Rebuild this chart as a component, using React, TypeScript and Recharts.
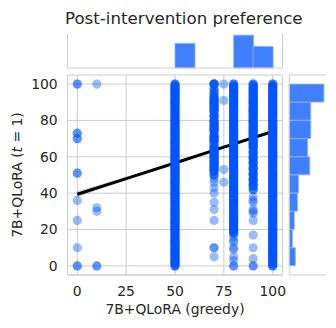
import {
  Area,
  Bar,
  BarChart,
  CartesianGrid,
  ComposedChart,
  Line,
  ReferenceLine,
  Scatter,
  XAxis,
  YAxis,
  ZAxis,
} from "recharts";

// scores from the two runs, grouped by the greedy score (x)
// sparse columns: one entry per visible dot
const col0 = [100, 100, 73, 73, 70, 70, 51, 51, 36, 25, 10, 0, 0];
const col10 = [100, 32, 30, 0, 0];
const col75 = [100, 91, 53, 46];
const col70Tail = [48, 46, 43, 40, 35, 31, 25, 10, 10, 5];
const col80Tail = [16, 14, 13, 10, 9, 5, 3, 0, 0];
const col90Tail = [38, 36, 35, 31, 30, 29, 25, 17, 10, 4, 0, 0];

// dense columns: every score that shows up, drawn several times over
const col50 = [
  0, 1, 2, 3, 4, 5, 6, 7, 8, 9, 10, 11, 12, 13, 14, 15, 16, 17, 18, 19, 20,
  21, 22, 23, 24, 25, 26, 27, 28, 29, 30, 31, 32, 33, 34, 35, 36, 37, 38, 39,
  40, 41, 42, 43, 44, 45, 46, 47, 48, 49, 50, 51, 52, 53, 54, 55, 56, 57, 58,
  59, 60, 61, 62, 63, 64, 65, 66, 67, 68, 69, 70, 71, 72, 73, 74, 75, 76, 77,
  78, 79, 80, 81, 82, 83, 84, 85, 86, 87, 88, 89, 90, 91, 92, 93, 94, 95, 96,
  97, 98, 99, 100,
];
const col70 = [
  100, 100, 97, 95, 93, 92, 91, 90, 89, 88, 87, 86, 85, 83, 82, 80, 79, 78,
  77, 76, 75, 74, 72, 71, 70, 69, 68, 66, 65, 64, 63, 62, 61, 60, 59, 58, 57,
  56, 55, 54, 53, 52, 50,
];
const col80 = [
  18, 19, 20, 21, 22, 23, 24, 25, 26, 27, 28, 29, 30, 31, 32, 33, 34, 35, 36,
  37, 38, 39, 40, 41, 42, 43, 44, 45, 46, 47, 48, 49, 50, 51, 52, 53, 54, 55,
  56, 57, 58, 59, 60, 61, 62, 63, 64, 65, 66, 67, 68, 69, 70, 71, 72, 73, 74,
  75, 76, 77, 78, 79, 80, 81, 82, 83, 84, 85, 86, 87, 88, 89, 90, 91, 92, 93,
  94, 95, 96, 97, 98, 99, 100,
];
const col90 = [
  42, 44, 45, 47, 48, 50, 51, 53, 54, 56, 57, 59, 60, 62, 63, 65, 66, 67, 68,
  69, 70, 71, 72, 73, 74, 75, 76, 77, 78, 79, 80, 81, 82, 83, 84, 85, 86, 87,
  88, 89, 90, 91, 92, 93, 94, 95, 96, 97, 98, 99, 100,
];
const col100 = [
  0, 1, 2, 3, 4, 5, 6, 7, 8, 9, 10, 11, 12, 13, 14, 15, 16, 17, 18, 19, 20,
  21, 22, 23, 24, 25, 26, 27, 28, 29, 30, 31, 32, 33, 34, 35, 36, 37, 38, 39,
  40, 41, 42, 43, 44, 45, 46, 47, 48, 49, 50, 51, 52, 53, 54, 55, 56, 57, 58,
  59, 60, 61, 62, 63, 64, 65, 66, 67, 68, 69, 70, 71, 72, 73, 74, 75, 76, 77,
  78, 79, 80, 81, 82, 83, 84, 85, 86, 87, 88, 89, 90, 91, 92, 93, 94, 95, 96,
  97, 98, 99, 100,
];
// how many times each score repeats in the dense columns
const denseCopies = 3;

// regression fit and its confidence band
const fitX = [0, 25, 50, 75, 100];
const fitY = [39.4, 48.0, 56.6, 65.3, 73.9];
const fitLo = [37.6, 47.1, 56.0, 64.9, 73.3];
const fitHi = [41.2, 48.9, 57.2, 65.7, 74.5];

// marginal histograms, 10-wide bins
const binLabels = ["0-10", "10-20", "20-30", "30-40", "40-50", "50-60", "60-70", "70-80", "80-90", "90-100"];
const greedyCounts = [0, 0, 0, 0, 0, 312, 0, 0, 416, 273];
const sampledCounts = [41, 21, 34, 55, 62, 138, 124, 145, 145, 234];

const xTicks = [0, 25, 50, 75, 100];
const yTicks = [0, 20, 40, 60, 80, 100];

const W = 336;
const H = 328;
const BLUE = "#0055ff";
const HIST = "#4080ff";
const GRID = "#cccccc";
const INK = "#262626";
const FONT = "'DejaVu Sans', sans-serif";

const column = (x: number, ys: number[], copies = 1) =>
  Array.from({ length: copies }).flatMap(() => ys.map((y) => ({ x, y })));

const points = [
  ...column(0, col0),
  ...column(10, col10),
  ...column(50, col50, denseCopies),
  ...column(70, col70, denseCopies),
  ...column(70, col70Tail),
  ...column(75, col75),
  ...column(80, col80, denseCopies),
  ...column(80, col80Tail),
  ...column(90, col90, denseCopies),
  ...column(90, col90Tail),
  ...column(100, col100, denseCopies),
];
const fitData = fitX.map((x, i) => ({ x, y: fitY[i], band: [fitLo[i], fitHi[i]] }));
const topData = binLabels.map((bin, i) => ({ bin, count: greedyCounts[i] }));
// right margin runs top-down, so highest bin first
const rightData = binLabels.map((bin, i) => ({ bin, count: sampledCounts[i] })).reverse();

const layer: React.CSSProperties = { position: "absolute", left: 0, top: 0 };

function YLabel() {
  return (
    <text
      x={22.3}
      y={175}
      transform="rotate(-90 22.3 175)"
      textAnchor="middle"
      fill={INK}
      fontSize={13.9}
      fontFamily={FONT}
    >
      7B+QLoRA (<tspan fontStyle="italic">t</tspan> = 1)
    </text>
  );
}

function XLabel() {
  return (
    <text x={175} y={313.5} textAnchor="middle" fill={INK} fontSize={13.9} fontFamily={FONT}>
      7B+QLoRA (greedy)
    </text>
  );
}

export default function App() {
  const tick = { fill: INK, fontSize: 13.9, fontFamily: FONT };
  return (
    <div style={{ position: "absolute", left: 0, top: 0, width: W, height: H, background: "#fff" }}>
      <svg style={layer} width={W} height={H}>
        <text x={183.8} y={23.5} textAnchor="middle" fill={INK} fontSize={16.67} fontFamily={FONT}>
          Post-intervention preference
        </text>
      </svg>

      {/* top marginal: greedy */}
      <div style={layer}>
        <BarChart
          width={W}
          height={75}
          data={topData}
          margin={{ top: 33.5, right: 53.5, bottom: 7, left: 67.5 }}
          barCategoryGap={0}
          barGap={0}
        >
          <XAxis xAxisId="bins" dataKey="bin" type="category" hide padding={{ left: 9.77, right: 9.77 }} />
          <XAxis xAxisId="grid" type="number" domain={[-5, 105]} ticks={xTicks} hide allowDataOverflow />
          <YAxis type="number" domain={[0, 437]} hide />
          <CartesianGrid xAxisId="grid" horizontal={false} stroke={GRID} strokeDasharray="" />
          <ReferenceLine xAxisId="grid" y={0} stroke={GRID} />
          <Bar xAxisId="bins" dataKey="count" fill={HIST} stroke="#8fb3ff" strokeWidth={0.8} isAnimationActive={false} />
        </BarChart>
      </div>

      {/* right marginal: sampled */}
      <div style={layer}>
        <BarChart
          width={W}
          height={H}
          data={rightData}
          layout="vertical"
          margin={{ top: 75, right: 10.3, bottom: 53, left: 289.3 }}
          barCategoryGap={0}
          barGap={0}
        >
          <XAxis type="number" domain={[0, 246]} hide />
          <YAxis yAxisId="bins" dataKey="bin" type="category" hide padding={{ top: 9.09, bottom: 9.09 }} />
          <YAxis yAxisId="grid" type="number" domain={[-5, 105]} ticks={yTicks} hide allowDataOverflow />
          <CartesianGrid yAxisId="grid" vertical={false} stroke={GRID} strokeDasharray="" />
          <ReferenceLine yAxisId="grid" x={0} stroke={GRID} />
          <Bar yAxisId="bins" dataKey="count" fill={HIST} stroke="#8fb3ff" strokeWidth={0.8} isAnimationActive={false} />
        </BarChart>
      </div>

      {/* joint scatter + fit */}
      <div style={layer}>
        <ComposedChart width={W} height={H} margin={{ top: 75, right: 53.5, bottom: 23, left: 0 }}>
          <CartesianGrid stroke={GRID} strokeDasharray="" />
          <XAxis
            type="number"
            dataKey="x"
            domain={[-5, 105]}
            ticks={xTicks}
            height={30}
            stroke={GRID}
            tickLine={false}
            tickSize={0}
            tickMargin={11.4}
            tick={tick}
            label={{ content: () => <XLabel /> }}
          />
          <YAxis
            type="number"
            dataKey="y"
            domain={[-5, 105]}
            ticks={yTicks}
            width={67.5}
            stroke={GRID}
            tickLine={false}
            tickSize={0}
            tickMargin={9.8}
            tick={tick}
            label={{ content: () => <YLabel /> }}
          />
          <ZAxis range={[66, 66]} />
          <Scatter data={points} fill={BLUE} fillOpacity={0.4} isAnimationActive={false} />
          <Area
            data={fitData}
            dataKey="band"
            type="monotone"
            stroke="none"
            fill="#000"
            fillOpacity={0.15}
            isAnimationActive={false}
          />
          <Line
            data={fitData}
            dataKey="y"
            type="linear"
            stroke="#000"
            strokeWidth={3}
            dot={false}
            isAnimationActive={false}
          />
        </ComposedChart>
      </div>
    </div>
  );
}
